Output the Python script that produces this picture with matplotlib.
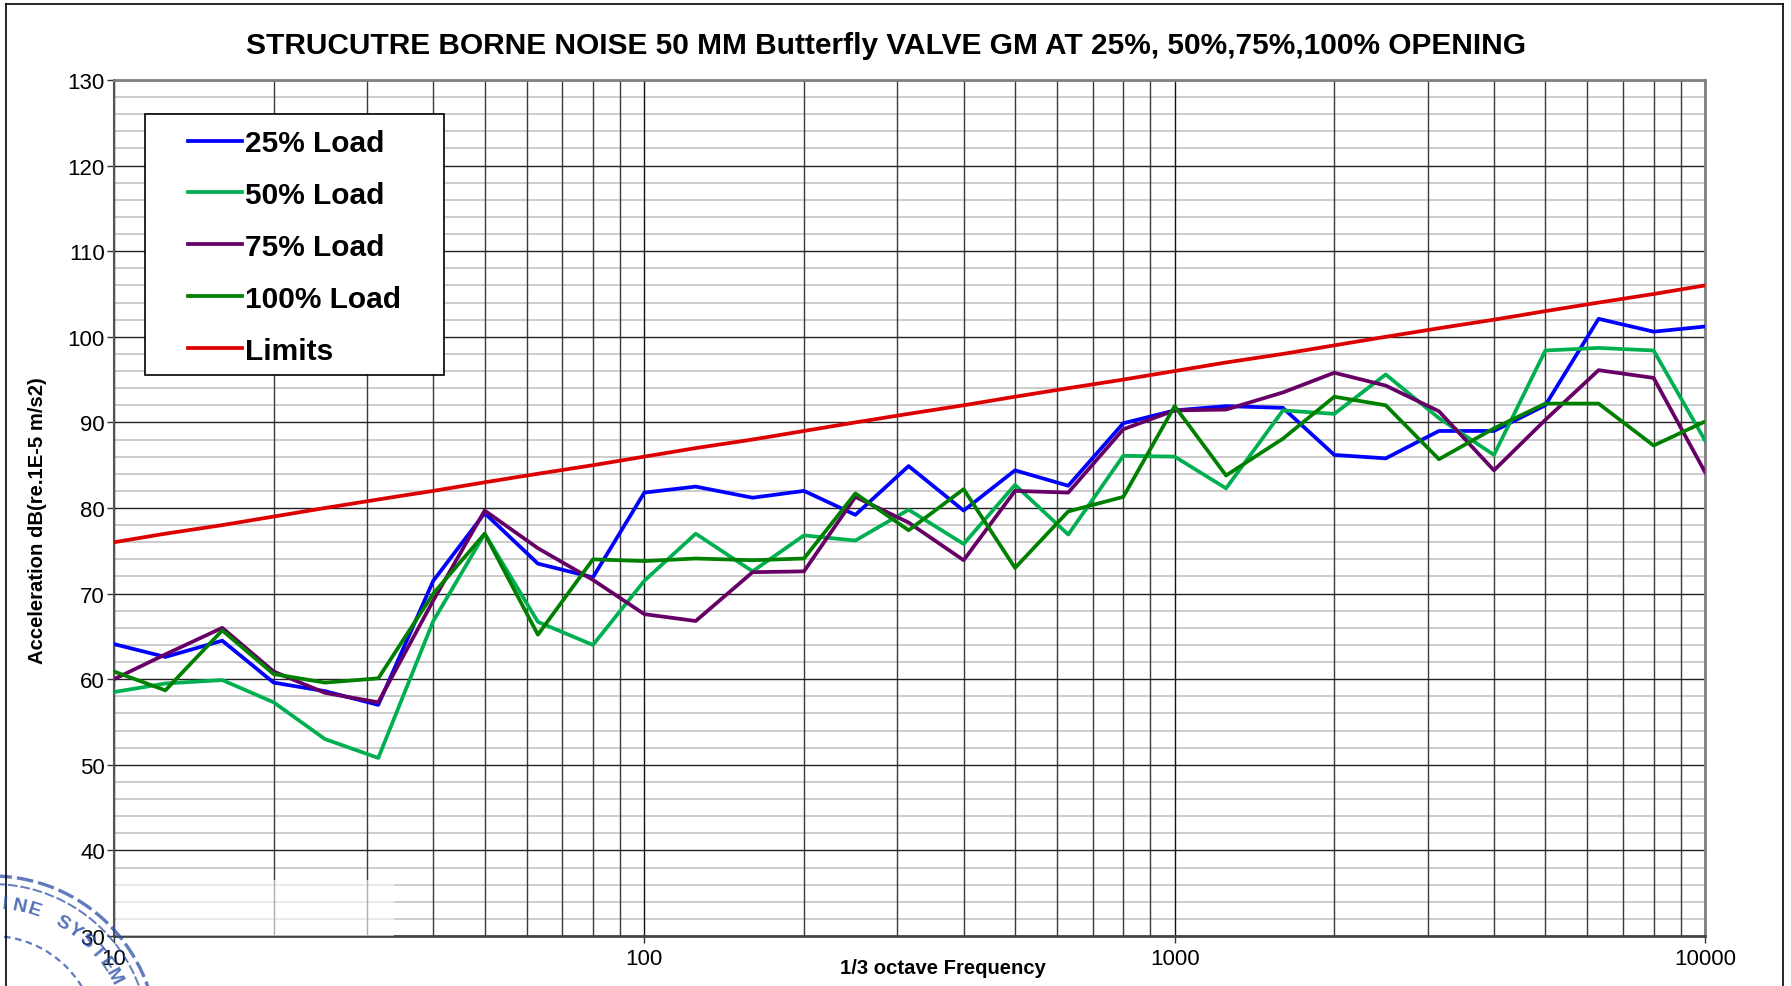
import numpy as np
import matplotlib.pyplot as plt
from matplotlib.lines import Line2D
from matplotlib.patches import Rectangle, Ellipse
from matplotlib.ticker import FixedLocator, LogLocator, NullFormatter

# 1/3 octave band centre frequencies (Hz)
freqs = [10, 12.5, 16, 20, 25, 31.5, 40, 50, 63, 80, 100, 125, 160, 200, 250,
         315, 400, 500, 630, 800, 1000, 1250, 1600, 2000, 2500, 3150, 4000,
         5000, 6300, 8000, 10000]

load_25 = [64.1, 62.6, 64.5, 59.6, 58.6, 57.0, 71.5, 79.4, 73.5, 71.9, 81.8,
           82.5, 81.2, 82.0, 79.2, 84.9, 79.7, 84.4, 82.6, 89.9, 91.4, 91.9,
           91.7, 86.2, 85.8, 89.0, 89.0, 92.0, 102.1, 100.6, 101.2]
load_50 = [58.5, 59.5, 59.9, 57.3, 53.0, 50.8, 66.8, 77.0, 66.7, 64.0, 71.5,
           77.0, 72.6, 76.8, 76.2, 79.8, 75.8, 82.7, 76.9, 86.1, 86.0, 82.3,
           91.4, 91.0, 95.6, 90.5, 86.2, 98.4, 98.7, 98.4, 87.9]
load_75 = [60.0, 62.9, 66.0, 60.9, 58.4, 57.3, 69.2, 79.7, 75.3, 71.6, 67.6,
           66.8, 72.5, 72.6, 81.3, 78.3, 73.9, 82.0, 81.8, 89.2, 91.4, 91.5,
           93.5, 95.8, 94.3, 91.3, 84.4, 90.3, 96.1, 95.2, 84.2]
load_100 = [60.9, 58.7, 65.7, 60.6, 59.6, 60.1, 70.0, 77.0, 65.2, 74.0, 73.8,
            74.1, 73.9, 74.1, 81.7, 77.4, 82.2, 73.0, 79.6, 81.3, 91.9, 83.8,
            88.1, 93.0, 92.0, 85.7, 89.3, 92.2, 92.2, 87.3, 90.1]
limits = [76, 77, 78, 79, 80, 81, 82, 83, 84, 85, 86, 87, 88, 89, 90, 91, 92,
          93, 94, 95, 96, 97, 98, 99, 100, 101, 102, 103, 104, 105, 106]

series = [
    ("25% Load", load_25, "#0000FF"),
    ("50% Load", load_50, "#00B050"),
    ("75% Load", load_75, "#660066"),
    ("100% Load", load_100, "#008000"),
    ("Limits", limits, "#DD0000"),
]

plt.rcParams['font.family'] = ['Liberation Sans', 'DejaVu Sans']

W, H = 1791, 987
fig = plt.figure(figsize=(W / 100, H / 100), dpi=100)
ax = fig.add_axes([114 / W, 1 - 937 / H, (1705 - 114) / W, (937 - 81) / H])

for label, vals, color in series:
    ax.plot(freqs, vals, color=color, lw=2.7, label=label, zorder=3)

ax.set_xscale('log')
ax.set_xlim(10, 10000)
ax.set_ylim(30, 130)

# ticks and grid
ax.yaxis.set_major_locator(FixedLocator(range(30, 131, 10)))
ax.xaxis.set_major_locator(FixedLocator([10, 100, 1000, 10000]))
ax.xaxis.set_minor_locator(LogLocator(base=10, subs=range(2, 10)))
ax.xaxis.set_minor_formatter(NullFormatter())
ax.set_xticklabels(['10', '100', '1000', '10000'])

for v in range(32, 130, 2):
    if v % 10:
        ax.axhline(v, color='#C8C8C8', lw=1.3, zorder=0.2)
ax.grid(which='major', axis='y', color='#222222', lw=1.0)
ax.grid(which='minor', axis='x', color='#3A3A3A', lw=1.0)
ax.grid(which='major', axis='x', color='#111111', lw=1.0)
ax.set_axisbelow(True)

ax.tick_params(axis='both', which='major', labelsize=16, length=5, width=1,
               color='#333333')
ax.tick_params(axis='y', which='major', pad=1.5)
ax.tick_params(axis='x', which='major', pad=4)
ax.tick_params(axis='x', which='minor', length=0)

for side in ['top', 'right']:
    ax.spines[side].set_color('#808080')
    ax.spines[side].set_linewidth(2)
ax.spines['left'].set_color('#555555')
ax.spines['left'].set_linewidth(1.5)
ax.spines['bottom'].set_color('#444444')
ax.spines['bottom'].set_linewidth(2)

# faded strip at lower left (under the stamp)
ax.add_patch(Rectangle((0.001, 0), 0.175, 0.065, transform=ax.transAxes,
                       facecolor='white', edgecolor='none', alpha=0.6, zorder=2.6))

fig.text(38 / W, 1 - 521 / H, 'Acceleration dB(re.1E-5 m/s2)', rotation=90,
         ha='center', va='center', fontsize=14.6, fontweight='bold')
fig.text(943 / W, 1 - 969 / H, '1/3 octave Frequency', ha='center', va='center',
         fontsize=14.6, fontweight='bold')

fig.text(886 / W, 1 - 46 / H,
         'STRUCUTRE BORNE NOISE 50 MM Butterfly VALVE GM AT 25%, 50%,75%,100% OPENING',
         ha='center', va='center', fontsize=21.5, fontweight='bold')

# legend box drawn separately, legend entries inside
ax.add_patch(Rectangle(((145 - 114) / 1591, (937 - 376) / 856),
                       (444 - 145) / 1591, (376 - 115) / 856,
                       transform=ax.transAxes, facecolor='white',
                       edgecolor='black', lw=1.2, zorder=4))
leg = ax.legend(loc='upper left', bbox_to_anchor=((188 - 114) / 1591, (937 - 130) / 856),
                borderaxespad=0, borderpad=0, handlelength=1.8,
                handletextpad=0.1, labelspacing=0.8, frameon=False,
                prop={'weight': 'bold', 'size': 21.5})
leg.set_zorder(5)

# outer chart border
for xs, ys in [([6 / W, 6 / W], [0, 1 - 5 / H]),
               ([6 / W, 1783 / W], [1 - 5 / H, 1 - 5 / H]),
               ([1783 / W, 1783 / W], [0, 1 - 5 / H])]:
    fig.add_artist(Line2D(xs, ys, color='black', lw=1.2))

# approval stamp, mostly outside the picture
cx, cy = -8, 1042
stamp_col = '#2B4FA8'
for r, lw, ls in [(165, 2.4, (0, (5, 1.5))), (157, 1.4, (0, (5, 1.5))),
                  (105, 1.6, (0, (3, 2)))]:
    fig.add_artist(Ellipse((cx / W, 1 - cy / H), 2 * r / W, 2 * r / H,
                           transform=fig.transFigure, fill=False,
                           edgecolor=stamp_col, lw=lw, alpha=0.75, ls=ls))
stamp_txt = "INE SYSTEM"
for i, ch in enumerate(stamp_txt):
    ang = np.deg2rad(84.6 - i * 6.3)
    px = cx + 138 * np.cos(ang)
    py = cy - 138 * np.sin(ang)
    fig.text(px / W, 1 - py / H, ch, ha='center', va='center', fontsize=14,
             fontweight='bold', color=stamp_col, alpha=0.8,
             rotation=np.rad2deg(ang) - 90)

fig.savefig('out.png', dpi=100)
